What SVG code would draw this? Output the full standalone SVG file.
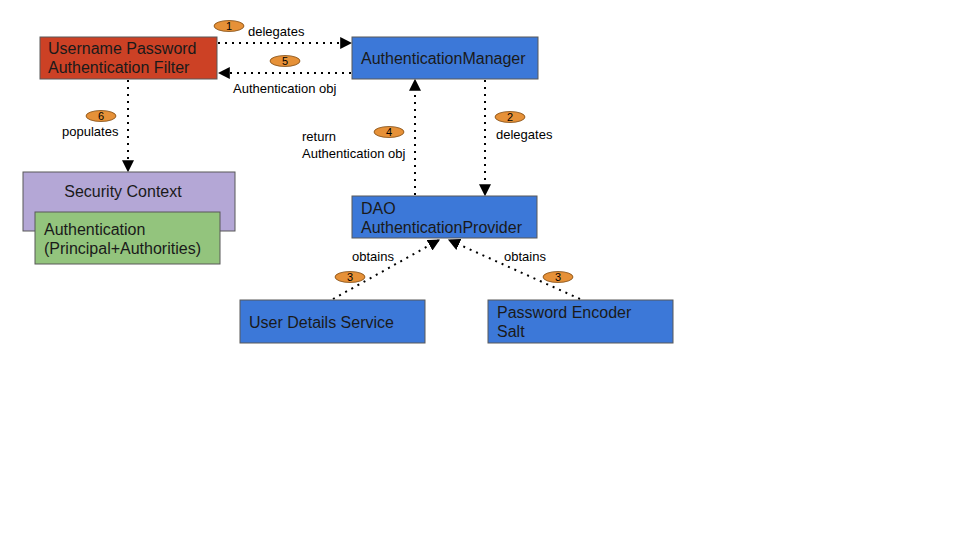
<svg xmlns="http://www.w3.org/2000/svg" width="960" height="540" viewBox="0 0 960 540">
<defs>
<style>
.box{stroke:#595959;stroke-width:1}
.t{font-family:"Liberation Sans",Arial,sans-serif;font-size:16px;fill:#1a1a1a}
.l{font-family:"Liberation Sans",Arial,sans-serif;font-size:13px;fill:#000}
.b{fill:#e69138;stroke:#7f4a10;stroke-width:0.8}
.bt{font-family:"Liberation Sans",Arial,sans-serif;font-size:11px;fill:#000;text-anchor:middle}
.c{fill:none;stroke:#000;stroke-width:2;stroke-dasharray:2 5}
</style>
<marker id="ah" viewBox="0 0 10 10" refX="9" refY="5" markerWidth="6" markerHeight="6" orient="auto" markerUnits="strokeWidth">
<path d="M0,0 L10,5 L0,10 z" fill="#000"/>
</marker>
</defs>
<rect width="960" height="540" fill="#fff"/>
<g id="connectors">
<line class="c" x1="218" y1="43" x2="351" y2="43" marker-end="url(#ah)"/>
<line class="c" x1="351" y1="73" x2="219" y2="73" marker-end="url(#ah)"/>
<line class="c" x1="128" y1="80" x2="128" y2="171" marker-end="url(#ah)"/>
<line class="c" x1="415" y1="195" x2="415" y2="80" marker-end="url(#ah)"/>
<line class="c" x1="485" y1="80" x2="485" y2="195" marker-end="url(#ah)"/>
<line class="c" x1="333" y1="299" x2="439" y2="240" marker-end="url(#ah)"/>
<line class="c" x1="580" y1="299" x2="449" y2="240" marker-end="url(#ah)"/>
</g>
<g id="labels">
<ellipse class="b" cx="229" cy="26" rx="15" ry="5.5"/><text class="bt" x="229" y="30">1</text>
<text class="l" x="248" y="36">delegates</text>
<ellipse class="b" cx="285" cy="61" rx="15" ry="5.5"/><text class="bt" x="285" y="65">5</text>
<text class="l" x="233" y="93">Authentication obj</text>
<ellipse class="b" cx="101" cy="116" rx="15" ry="5.5"/><text class="bt" x="101" y="120">6</text>
<text class="l" x="62" y="136">populates</text>
<ellipse class="b" cx="389" cy="132" rx="15" ry="5.5"/><text class="bt" x="389" y="136">4</text>
<text class="l" x="302" y="141">return</text>
<text class="l" x="302" y="158">Authentication obj</text>
<ellipse class="b" cx="510" cy="117" rx="15" ry="5.5"/><text class="bt" x="510" y="121">2</text>
<text class="l" x="496" y="139">delegates</text>
<text class="l" x="352" y="261">obtains</text>
<ellipse class="b" cx="350" cy="277" rx="15" ry="5.5"/><text class="bt" x="350" y="281">3</text>
<text class="l" x="504" y="261">obtains</text>
<ellipse class="b" cx="558" cy="277" rx="15" ry="5.5"/><text class="bt" x="558" y="281">3</text>
</g>
<g id="filter">
<rect class="box" x="40" y="37" width="177" height="42" fill="#cc4125"/>
<text class="t" x="48" y="54">Username Password</text>
<text class="t" x="48" y="73">Authentication Filter</text>
</g>
<g id="manager">
<rect class="box" x="352" y="37" width="186" height="42" fill="#3c78d8"/>
<text class="t" x="361" y="64">AuthenticationManager</text>
</g>
<g id="securitycontext">
<rect class="box" x="23" y="172" width="212" height="59" fill="#b4a7d6"/>
<text class="t" x="123" y="197" text-anchor="middle">Security Context</text>
</g>
<g id="authentication">
<rect class="box" x="35" y="212" width="185" height="52" fill="#93c47d"/>
<text class="t" x="44" y="235">Authentication</text>
<text class="t" x="44" y="254">(Principal+Authorities)</text>
</g>
<g id="dao">
<rect class="box" x="352" y="196" width="185" height="42" fill="#3c78d8"/>
<text class="t" x="361" y="214">DAO</text>
<text class="t" x="361" y="233">AuthenticationProvider</text>
</g>
<g id="userdetails">
<rect class="box" x="240" y="300" width="185" height="43" fill="#3c78d8"/>
<text class="t" x="249" y="328">User Details Service</text>
</g>
<g id="encoder">
<rect class="box" x="488" y="300" width="185" height="43" fill="#3c78d8"/>
<text class="t" x="497" y="318">Password Encoder</text>
<text class="t" x="497" y="337">Salt</text>
</g>
</svg>
